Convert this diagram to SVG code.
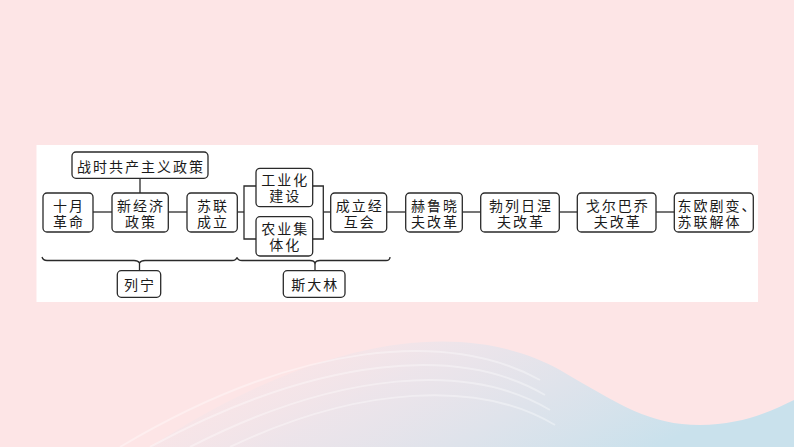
<svg xmlns="http://www.w3.org/2000/svg" width="794" height="447" viewBox="0 0 794 447">
<style>
.box{fill:#fff;stroke:#2a2a2a;stroke-width:1.3}
.ln{fill:none;stroke:#2a2a2a;stroke-width:1.3}
.t{font-family:"Noto Sans CJK SC","Noto Sans CJK JP",sans-serif;font-size:14px;fill:#1a1a1a;letter-spacing:2px;text-anchor:middle}
.s{text-anchor:start}
</style>
<defs>
<linearGradient id="wave" x1="0" y1="0" x2="1" y2="0.3">
<stop offset="0" stop-color="#fde5e6" stop-opacity="0"/>
<stop offset="0.45" stop-color="#e6e4ec" stop-opacity="0.7"/>
<stop offset="1" stop-color="#c9e1ec"/>
</linearGradient>
</defs>
<rect width="794" height="447" fill="#fde5e6"/>
<path d="M150,447 C330,330 470,320 560,370 C620,405 650,425 700,425 C740,425 770,412 794,400 L794,447 Z" fill="url(#wave)"/>
<g fill="none" stroke="#fff" stroke-opacity="0.35" stroke-width="2">
<path d="M120,447 C300,340 450,330 540,380"/>
<path d="M150,447 C320,355 460,345 545,395"/>
<path d="M190,447 C340,370 470,362 550,410"/>
<path d="M230,447 C360,385 480,380 555,425"/>
</g>
<rect x="36.5" y="145" width="721.5" height="157" fill="#fff"/>

<g id="connectors">
<line class="ln" x1="140" y1="178" x2="140" y2="193"/>
<line class="ln" x1="93" y1="212" x2="112" y2="212"/>
<line class="ln" x1="168" y1="212" x2="187" y2="212"/>
<line class="ln" x1="237" y1="212" x2="244" y2="212"/>
<path class="ln" d="M256,186 H244 V239 H256"/>
<path class="ln" d="M312.7,186 H323.3 V239 H312.7"/>
<line class="ln" x1="323.3" y1="212" x2="330.7" y2="212"/>
<line class="ln" x1="386.7" y1="212" x2="405.7" y2="212"/>
<line class="ln" x1="462.3" y1="212" x2="480.7" y2="212"/>
<line class="ln" x1="559.3" y1="212" x2="577.3" y2="212"/>
<line class="ln" x1="656" y1="212" x2="674.3" y2="212"/>
<path class="ln" d="M42,257 Q43,260.5 47,260.5 H134 Q138,260.5 139.5,263 Q141,260.5 145,260.5 H232 Q236,260.5 237,257.5"/>
<line class="ln" x1="139.5" y1="263" x2="139.5" y2="270.7"/>
<path class="ln" d="M237,257.5 Q238,260.5 242,260.5 H310 Q314,260.5 315,263 Q316,260.5 320,260.5 H386 Q390,260.5 390,257"/>
<line class="ln" x1="315" y1="263" x2="315" y2="270.7"/>
</g>

<g id="n-zhanshi">
<rect class="box" x="72" y="152" width="136" height="26.3" rx="4"/>
<text class="t" x="141" y="171.5">战时共产主义政策</text>
</g>
<g id="n-shiyue">
<rect class="box" x="43" y="193" width="50" height="39" rx="4"/>
<text class="t" x="69" y="210.5">十月</text>
<text class="t" x="69" y="226.5">革命</text>
</g>
<g id="n-xinjingji">
<rect class="box" x="112" y="193" width="56.3" height="39" rx="4"/>
<text class="t" x="141" y="210.5">新经济</text>
<text class="t" x="141" y="226.5">政策</text>
</g>
<g id="n-sulian">
<rect class="box" x="187" y="193" width="50.3" height="39" rx="4"/>
<text class="t" x="213" y="210.5">苏联</text>
<text class="t" x="213" y="226.5">成立</text>
</g>
<g id="n-gongye">
<rect class="box" x="256" y="168.3" width="56.7" height="38.4" rx="4"/>
<text class="t" x="285.3" y="185">工业化</text>
<text class="t" x="285.3" y="201">建设</text>
</g>
<g id="n-nongye">
<rect class="box" x="256" y="216.7" width="56.7" height="39.3" rx="4"/>
<text class="t" x="285.3" y="234">农业集</text>
<text class="t" x="285.3" y="250">体化</text>
</g>
<g id="n-jinghuhui">
<rect class="box" x="330.7" y="193" width="56" height="39" rx="4"/>
<text class="t" x="359.7" y="210.5">成立经</text>
<text class="t" x="359.7" y="226.5">互会</text>
</g>
<g id="n-heluxiaofu">
<rect class="box" x="405.7" y="193" width="56.6" height="39" rx="4"/>
<text class="t" x="435" y="210.5">赫鲁晓</text>
<text class="t" x="435" y="226.5">夫改革</text>
</g>
<g id="n-bolieriniefu">
<rect class="box" x="480.7" y="193" width="78.6" height="39" rx="4"/>
<text class="t" x="521" y="210.5">勃列日涅</text>
<text class="t" x="521" y="226.5">夫改革</text>
</g>
<g id="n-gorbachev">
<rect class="box" x="577.3" y="193" width="78.7" height="39" rx="4"/>
<text class="t" x="617.7" y="210.5">戈尔巴乔</text>
<text class="t" x="617.7" y="226.5">夫改革</text>
</g>
<g id="n-dongou">
<rect class="box" x="674.3" y="193" width="79" height="39" rx="4"/>
<text class="t s" x="677.5" y="210.5">东欧剧变、</text>
<text class="t s" x="677.5" y="226.5">苏联解体</text>
</g>
<g id="n-liening">
<rect class="box" x="117.3" y="270.7" width="43.4" height="26.6" rx="4"/>
<text class="t" x="140" y="290">列宁</text>
</g>
<g id="n-sidalin">
<rect class="box" x="283.3" y="270.7" width="61.7" height="26.6" rx="4"/>
<text class="t" x="315.2" y="290">斯大林</text>
</g>
</svg>
